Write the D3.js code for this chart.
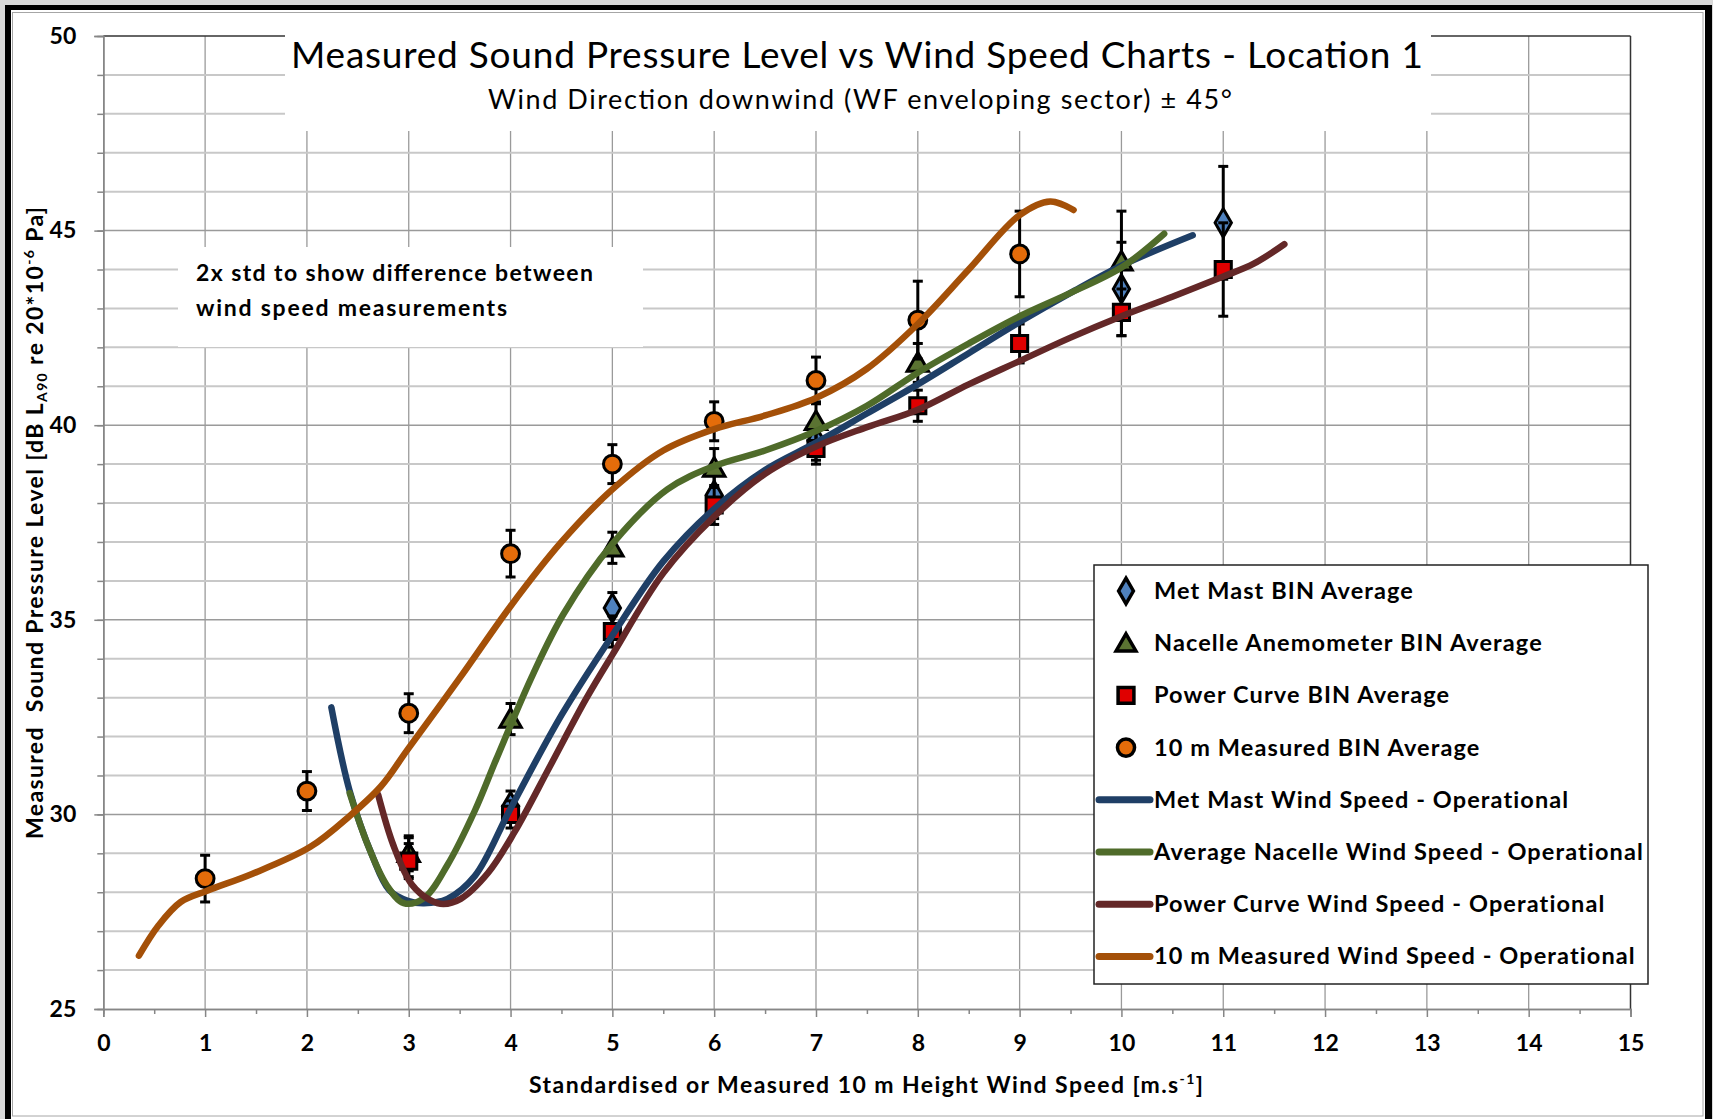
<!DOCTYPE html>
<html><head><meta charset="utf-8">
<script src="https://cdn.jsdelivr.net/npm/d3@7"></script>
<style>
html,body{margin:0;padding:0;background:#d9d9d9;}
svg{display:block;}
text{font-family:Lato,"Open Sans",sans-serif;fill:#000;}
</style>
</head><body>
<svg id="chart" width="1713" height="1119"></svg>
<script>
// ---------- data ----------
const xTickValues = [0,1,2,3,4,5,6,7,8,9,10,11,12,13,14,15];
const yTickValues = [25,30,35,40,45,50];

const titleText = "Measured Sound Pressure Level vs Wind Speed Charts - Location 1";
const subtitleText = "Wind Direction downwind (WF enveloping sector) \u00B1 45\u00B0";
const noteLines = ["2x std to show difference between","wind speed measurements"];

const legendLabels = ["Met Mast BIN Average","Nacelle Anemometer BIN Average","Power Curve BIN Average","10 m Measured BIN Average",
  "Met Mast Wind Speed - Operational","Average Nacelle Wind Speed - Operational","Power Curve Wind Speed - Operational","10 m Measured Wind Speed - Operational"];

// BIN averages (x = wind speed bin, y = dB, err = bar half length)
const metMastBinX   = [3,4,5,6,7,10,11];
const metMastBinY   = [28.9,30.2,35.3,38.2,39.6,43.5,45.2];
const metMastBinErr = [0.5,0.4,0.4,0.6,0.5,1.2,1.45];

const nacelleBinX   = [3,4,5,6,7,8,10];
const nacelleBinY   = [29.0,32.45,36.85,38.9,40.1,41.6,44.2];
const nacelleBinErr = [0.45,0.4,0.4,0.5,0.5,0.5,1.3];

const powerBinX     = [3,4,5,6,7,8,9,10,11];
const powerBinY     = [28.8,30.0,34.7,37.95,39.4,40.5,42.1,42.9,44.0];
const powerBinErr   = [0.45,0.35,0.4,0.5,0.4,0.4,0.5,0.6,1.2];

const tenMBinX      = [1,2,3,4,5,6,7,8,9];
const tenMBinY      = [28.35,30.6,32.6,36.7,39.0,40.1,41.15,42.7,44.4];
const tenMBinErr    = [0.6,0.5,0.5,0.6,0.5,0.5,0.6,1.0,1.1];

// Operational fit curves
const metMastCurve = [[2.24,32.75],[2.42,30.6],[2.64,28.95],[2.81,28.05],[2.99,27.78],[3.15,27.72],[3.38,27.83],[3.65,28.42],[4.0,30.15],[4.5,32.55],[5.0,34.6],[5.5,36.5],[6.0,37.85],[6.5,38.85],[7.0,39.55],[7.5,40.3],[8.0,41.05],[8.5,41.85],[9.0,42.65],[9.5,43.4],[10.0,44.1],[10.7,44.88]];
const nacelleCurve = [[2.42,30.55],[2.6,29.2],[2.78,28.2],[2.95,27.72],[3.15,27.85],[3.38,28.7],[3.65,30.1],[3.86,31.42],[4.22,33.6],[4.52,35.15],[5.0,36.95],[5.54,38.35],[6.0,38.95],[6.5,39.35],[7.0,39.85],[7.5,40.5],[8.0,41.35],[8.5,42.1],[9.0,42.8],[9.5,43.4],[10.0,44.05],[10.42,44.92]];
const powerCurve   = [[2.7,30.5],[2.85,29.2],[3.03,28.2],[3.21,27.8],[3.34,27.7],[3.51,27.83],[3.78,28.5],[4.04,29.55],[4.39,31.25],[4.74,32.96],[5.0,34.1],[5.5,36.2],[6.0,37.65],[6.5,38.75],[7.0,39.45],[7.5,39.95],[8.0,40.4],[8.5,41.05],[9.0,41.65],[9.5,42.25],[10.0,42.8],[10.5,43.3],[11.0,43.82],[11.3,44.15],[11.6,44.65]];
const tenMCurve    = [[0.35,26.37],[0.54,27.14],[0.76,27.75],[1.02,28.04],[1.46,28.47],[2.03,29.16],[2.42,29.96],[2.73,30.73],[2.99,31.67],[3.5,33.5],[4.0,35.35],[4.5,37.0],[5.0,38.35],[5.5,39.35],[6.0,39.9],[6.5,40.25],[7.0,40.7],[7.5,41.45],[8.0,42.6],[8.5,44.0],[9.0,45.4],[9.3,45.75],[9.53,45.53]];

// ---------- styles ----------
const C = {
  diamond:"#4F81BD", triangle:"#5B7332", square:"#E00000", circle:"#E46C0A",
  lineMet:"#1F3F66", lineNac:"#4F6B2A", linePow:"#642828", lineTen:"#A45008"
};

const svg = d3.select("#chart");
const W = 1713, H = 1119;

// frame
svg.append("rect").attr("width",W).attr("height",H).attr("fill","#d9d9d9");
svg.append("rect").attr("x",5).attr("y",5).attr("width",1707).attr("height",1130).attr("fill","#000");
svg.append("rect").attr("x",11).attr("y",10).attr("width",1694).attr("height",1115).attr("fill","#fff");
svg.append("rect").attr("x",12.5).attr("y",12.5).attr("width",1690.5).attr("height",1103.5)
  .attr("fill","none").attr("stroke","#a6a6a6").attr("stroke-width",1);

const x = d3.scaleLinear().domain([0,15]).range([103.3,1630.5]);
const y = d3.scaleLinear().domain([25,50]).range([1009,36]);

// gridlines
const g = svg.append("g");
const vGrid = d3.range(1,15);
g.selectAll("line.vg").data(vGrid).join("line")
  .attr("x1",d=>x(d)).attr("x2",d=>x(d)).attr("y1",y(50)).attr("y2",y(25))
  .attr("stroke","#9a9a9a").attr("stroke-width",1.3);
const hGrid = d3.range(26,50);
g.selectAll("line.hg").data(hGrid).join("line")
  .attr("x1",x(0)).attr("x2",x(15)).attr("y1",d=>y(d)).attr("y2",d=>y(d))
  .attr("stroke",d=> d%5===0 ? "#9a9a9a" : "#c8c8c8").attr("stroke-width",d=> d%5===0 ? 1.5 : 2);

// plot border top/right
svg.append("line").attr("x1",x(0)).attr("x2",x(15)).attr("y1",y(50)).attr("y2",y(50)).attr("stroke","#333").attr("stroke-width",1.5);
svg.append("line").attr("x1",x(15)).attr("x2",x(15)).attr("y1",y(50)).attr("y2",y(25)).attr("stroke","#333").attr("stroke-width",1.5);

// axes
const axisFont = 23;
const xAxisMinor = d3.axisBottom(x).tickValues(d3.range(0.5,15,1)).tickSize(5).tickFormat("");
const xAxis = d3.axisBottom(x).tickValues(xTickValues).tickSize(8).tickPadding(18).tickFormat(d3.format("d"));
const yAxisMinor = d3.axisLeft(y).tickValues(hGrid).tickSize(6).tickFormat("");
const yAxis = d3.axisLeft(y).tickValues(yTickValues).tickSize(9).tickPadding(18).tickFormat(d3.format("d"));

function styleAxis(sel){
  sel.select(".domain").attr("stroke","#868686").attr("stroke-width",1.5);
  sel.selectAll(".tick line").attr("stroke","#868686").attr("stroke-width",1.5);
  sel.selectAll(".tick text").attr("font-family","Lato").attr("font-weight","bold").attr("font-size",axisFont).attr("fill","#000");
}
svg.append("g").attr("transform",`translate(0,${y(25)})`).call(xAxisMinor).call(styleAxis);
svg.append("g").attr("transform",`translate(0,${y(25)})`).call(xAxis).call(styleAxis);
svg.append("g").attr("transform",`translate(0,${y(25)})`).call(g=>g.select(".domain").remove());
svg.append("g").attr("transform",`translate(${x(0)},0)`).call(yAxisMinor).call(styleAxis);
svg.append("g").attr("transform",`translate(${x(0)},0)`).call(yAxis).call(styleAxis);

// white text boxes (cover gridlines)
svg.append("rect").attr("x",285).attr("y",14).attr("width",1146).attr("height",117).attr("fill","#fff");
svg.append("rect").attr("x",178).attr("y",247).attr("width",465).attr("height",100).attr("fill","#fff");

// titles
svg.append("text").attr("x",857).attr("y",68).attr("text-anchor","middle")
  .attr("font-size",37).attr("textLength",1132).attr("lengthAdjust","spacing").text(titleText);
svg.append("text").attr("x",860).attr("y",109).attr("text-anchor","middle")
  .attr("font-size",27).attr("textLength",744).attr("lengthAdjust","spacing").text(subtitleText);
svg.selectAll("text.note").data(noteLines).join("text").attr("class","note")
  .attr("x",196).attr("y",(d,i)=>281+i*35).attr("font-size",23).attr("font-weight","bold")
  .attr("textLength",(d,i)=> i===0 ? 397 : 311).attr("lengthAdjust","spacing").text(d=>d);

// axis titles
const xl = svg.append("text").attr("x",866).attr("y",1093).attr("text-anchor","middle")
  .attr("font-size",23).attr("font-weight","bold").attr("textLength",674).attr("lengthAdjust","spacing");
xl.append("tspan").text("Standardised or Measured 10 m Height Wind Speed [m.s");
xl.append("tspan").attr("font-size",14).attr("dy",-9).text("-1");
xl.append("tspan").attr("dy",9).text("]");

const yl = svg.append("text").attr("transform","translate(43,523) rotate(-90)").attr("text-anchor","middle")
  .attr("font-size",23).attr("font-weight","bold").attr("textLength",632).attr("lengthAdjust","spacing");
yl.append("tspan").text("Measured\u00A0 Sound Pressure Level [dB L");
yl.append("tspan").attr("font-size",14).attr("dy",4).text("A90");
yl.append("tspan").attr("dy",-4).text(" re 20*10");
yl.append("tspan").attr("font-size",14).attr("dy",-9).text("-6");
yl.append("tspan").attr("dy",9).text(" Pa]");

// ---------- markers ----------
const sym = {
  diamond: d3.symbol().type(d3.symbolDiamond).size(230)(),
  triangle: d3.symbol().type(d3.symbolTriangle).size(200)(),
  square: d3.symbol().type(d3.symbolSquare).size(260)(),
  circle: d3.symbol().type(d3.symbolCircle).size(250)()
};
function zipBin(xs,ys,es){ return xs.map((v,i)=>({x:v,y:ys[i],e:es[i]})); }
const binSeries = [
  {data:zipBin(metMastBinX,metMastBinY,metMastBinErr), shape:"diamond", fill:C.diamond},
  {data:zipBin(nacelleBinX,nacelleBinY,nacelleBinErr), shape:"triangle", fill:C.triangle},
  {data:zipBin(powerBinX,powerBinY,powerBinErr), shape:"square", fill:C.square},
  {data:zipBin(tenMBinX,tenMBinY,tenMBinErr), shape:"circle", fill:C.circle}
];
binSeries.forEach(s=>{
  const gs = svg.append("g");
  const eb = gs.selectAll("g.eb").data(s.data).join("g");
  eb.append("line").attr("x1",d=>x(d.x)).attr("x2",d=>x(d.x)).attr("y1",d=>y(d.y+d.e)).attr("y2",d=>y(d.y-d.e))
    .attr("stroke","#000").attr("stroke-width",3);
  eb.append("line").attr("x1",d=>x(d.x)-5).attr("x2",d=>x(d.x)+5).attr("y1",d=>y(d.y+d.e)).attr("y2",d=>y(d.y+d.e))
    .attr("stroke","#000").attr("stroke-width",3);
  eb.append("line").attr("x1",d=>x(d.x)-5).attr("x2",d=>x(d.x)+5).attr("y1",d=>y(d.y-d.e)).attr("y2",d=>y(d.y-d.e))
    .attr("stroke","#000").attr("stroke-width",3);
  gs.selectAll("path").data(s.data).join("path")
    .attr("d",sym[s.shape]).attr("transform",d=>`translate(${x(d.x)},${y(d.y)+(s.shape==="triangle"?2:0)})`)
    .attr("fill",s.fill).attr("stroke","#000").attr("stroke-width",3).attr("stroke-linejoin","miter");
});

// ---------- curves ----------
const line = d3.line().x(d=>x(d[0])).y(d=>y(d[1])).curve(d3.curveCatmullRom.alpha(0.5));
const curves = [
  {data:metMastCurve,color:C.lineMet},
  {data:nacelleCurve,color:C.lineNac},
  {data:powerCurve,color:C.linePow},
  {data:tenMCurve,color:C.lineTen}
];
svg.selectAll("path.curve").data(curves).join("path").attr("class","curve")
  .attr("d",d=>line(d.data)).attr("fill","none").attr("stroke",d=>d.color)
  .attr("stroke-width",6.5).attr("stroke-linecap","round").attr("stroke-linejoin","round");

// ---------- legend ----------
const lg = svg.append("g");
lg.append("rect").attr("x",1094).attr("y",565).attr("width",554).attr("height",419)
  .attr("fill","#fff").attr("stroke","#222").attr("stroke-width",1.5);
const legendRows = [
  {type:"sym",shape:"diamond",fill:C.diamond},
  {type:"sym",shape:"triangle",fill:C.triangle},
  {type:"sym",shape:"square",fill:C.square},
  {type:"sym",shape:"circle",fill:C.circle},
  {type:"line",color:C.lineMet},
  {type:"line",color:C.lineNac},
  {type:"line",color:C.linePow},
  {type:"line",color:C.lineTen}
];
const rowY = i => 591 + i*52.2;
legendRows.forEach((r,i)=>{
  if(r.type==="sym"){
    const s = r.shape==="triangle"? d3.symbol().type(d3.symbolTriangle).size(170)() :
              r.shape==="square"? d3.symbol().type(d3.symbolSquare).size(250)() :
              r.shape==="circle"? d3.symbol().type(d3.symbolCircle).size(230)() :
              d3.symbol().type(d3.symbolDiamond).size(190)();
    lg.append("path").attr("d",s).attr("transform",`translate(1126,${rowY(i)+(r.shape==="triangle"?2:0)})`)
      .attr("fill",r.fill).attr("stroke","#000").attr("stroke-width",3.5);
  } else {
    lg.append("line").attr("x1",1099).attr("x2",1150).attr("y1",rowY(i)).attr("y2",rowY(i))
      .attr("stroke",r.color).attr("stroke-width",7).attr("stroke-linecap","round");
  }
  lg.append("text").attr("x",1154).attr("y",rowY(i)+8).attr("font-size",23.5).attr("font-weight","bold")
    .attr("letter-spacing",1.1).text(legendLabels[i]);
});
</script>
</body></html>
